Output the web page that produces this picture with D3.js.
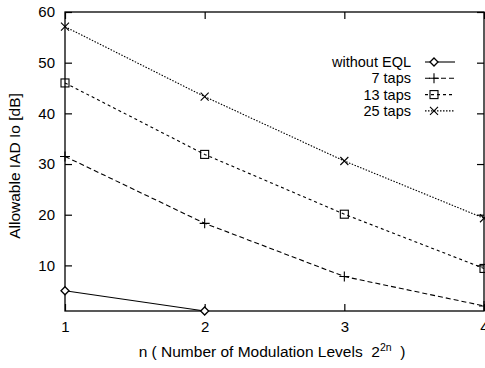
<!DOCTYPE html>
<html>
<head>
<meta charset="utf-8">
<script src="https://cdn.jsdelivr.net/npm/d3@7"></script>
<style>
  html, body { margin: 0; padding: 0; background: #fff; }
  svg { display: block; font-family: "Liberation Sans", Arial, sans-serif; }
</style>
</head>
<body>
<svg id="chart" width="485" height="368"></svg>
<script>
// Modulation order index n
const nValues = [1, 2, 3, 4];
// Allowable IAD Io [dB] for each equalizer configuration
const withoutEql = [5.0, 1.0];
const taps7 = [31.5, 18.3, 7.8, 2.0];
const taps13 = [46.0, 31.9, 20.1, 9.4];
const taps25 = [57.1, 43.3, 30.6, 19.3];
const seriesNames = ["without EQL", "7 taps", "13 taps", "25 taps"];
const yTicks = [10, 20, 30, 40, 50, 60];

const svg = d3.select("#chart");
const plotLeft = 65, plotRight = 484, plotTop = 12, plotBottom = 311;

const x = d3.scaleLinear().domain([1, 4]).range([plotLeft, plotRight]);
const y = d3.scaleLinear().domain([1, 60]).range([plotBottom, plotTop]);

const series = [
  { name: seriesNames[0], values: withoutEql, dash: null, marker: "diamond" },
  { name: seriesNames[1], values: taps7, dash: "5,3", marker: "plus" },
  { name: seriesNames[2], values: taps13, dash: "3,3", marker: "square" },
  { name: seriesNames[3], values: taps25, dash: "1.5,1.5", marker: "cross" }
];

// Frame
svg.append("rect")
  .attr("x", plotLeft).attr("y", plotTop)
  .attr("width", plotRight - plotLeft).attr("height", plotBottom - plotTop)
  .attr("fill", "none").attr("stroke", "#000").attr("stroke-width", 1.3);

// Axes with inward ticks on all four sides
const tickLen = 7;
const axisBottom = d3.axisBottom(x).tickValues(nValues).tickFormat(d3.format("d")).tickSizeInner(-tickLen).tickSizeOuter(0).tickPadding(10);
const axisTop = d3.axisTop(x).tickValues(nValues).tickFormat("").tickSizeInner(-tickLen).tickSizeOuter(0);
const axisLeft = d3.axisLeft(y).tickValues(yTicks).tickFormat(d3.format("d")).tickSizeInner(-tickLen).tickSizeOuter(0).tickPadding(10);
const axisRight = d3.axisRight(y).tickValues(yTicks).tickFormat("").tickSizeInner(-tickLen).tickSizeOuter(0);

function styleAxis(g) {
  g.select(".domain").remove();
  g.selectAll(".tick line").attr("stroke", "#000").attr("stroke-width", 1.2);
  g.selectAll(".tick text").attr("fill", "#000").attr("font-size", 15)
    .attr("font-family", "'Liberation Sans', Arial, sans-serif");
}
svg.append("g").attr("transform", `translate(0,${plotBottom})`).call(axisBottom).call(styleAxis);
svg.append("g").attr("transform", `translate(0,${plotTop})`).call(axisTop).call(styleAxis);
svg.append("g").attr("transform", `translate(${plotLeft},0)`).call(axisLeft).call(styleAxis);
svg.append("g").attr("transform", `translate(${plotRight},0)`).call(axisRight).call(styleAxis);

// Marker drawing
function drawMarker(g, type, cx, cy) {
  const s = 4;
  if (type === "diamond") {
    g.append("path").attr("d", `M${cx},${cy - s}L${cx + s},${cy}L${cx},${cy + s}L${cx - s},${cy}Z`)
      .attr("fill", "#fff").attr("stroke", "#000").attr("stroke-width", 1.3);
  } else if (type === "plus") {
    g.append("path").attr("d", `M${cx - s - 1},${cy}H${cx + s + 1}M${cx},${cy - s - 1}V${cy + s + 1}`)
      .attr("stroke", "#000").attr("stroke-width", 1.1);
  } else if (type === "square") {
    g.append("rect").attr("x", cx - s).attr("y", cy - s).attr("width", 2 * s).attr("height", 2 * s)
      .attr("fill", "none").attr("stroke", "#000").attr("stroke-width", 1.1);
  } else if (type === "cross") {
    g.append("path").attr("d", `M${cx - s},${cy - s}L${cx + s},${cy + s}M${cx - s},${cy + s}L${cx + s},${cy - s}`)
      .attr("stroke", "#000").attr("stroke-width", 1.1);
  }
}

const line = d3.line().x((d, i) => x(nValues[i])).y(d => y(d));
const plot = svg.append("g");
series.forEach(s => {
  plot.append("path").datum(s.values)
    .attr("d", line)
    .attr("fill", "none").attr("stroke", "#000").attr("stroke-width", 1.1)
    .attr("stroke-dasharray", s.dash);
  s.values.forEach((v, i) => drawMarker(plot, s.marker, x(nValues[i]), y(v)));
});

// Legend
const legend = svg.append("g");
series.forEach((s, i) => {
  const ly = 62 + i * 16.3;
  legend.append("text").attr("x", 411).attr("y", ly + 5)
    .attr("text-anchor", "end").attr("font-size", 14.5).text(s.name);
  legend.append("line").attr("x1", 425).attr("x2", 455).attr("y1", ly).attr("y2", ly)
    .attr("stroke", "#000").attr("stroke-width", 1.1).attr("stroke-dasharray", s.dash);
  drawMarker(legend, s.marker, 434, ly);
});

// Axis titles
svg.append("text")
  .attr("transform", "translate(20,166) rotate(-90)")
  .attr("text-anchor", "middle").attr("font-size", 15.5)
  .text("Allowable IAD Io [dB]");

const xt = svg.append("text").attr("x", 272).attr("y", 357)
  .attr("text-anchor", "middle").attr("font-size", 15.5)
  .style("white-space", "pre");
xt.append("tspan").text("n ( Number of Modulation Levels  2");
xt.append("tspan").attr("dy", -6).attr("font-size", 10.5).text("2n");
xt.append("tspan").attr("dy", 6).text("  )");
</script>
</body>
</html>
